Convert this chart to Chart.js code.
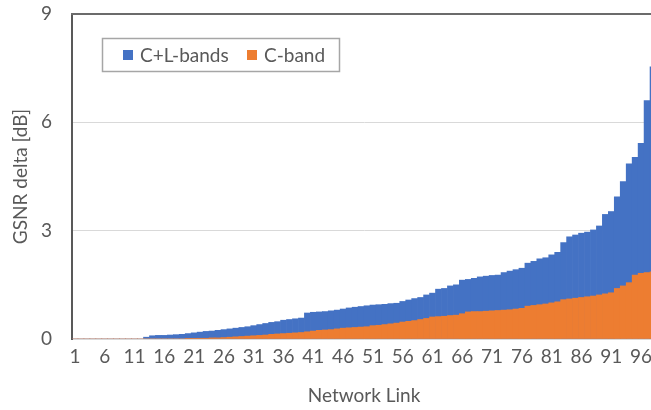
<!DOCTYPE html>
<html>
<head>
<meta charset="utf-8">
<script src="https://cdn.jsdelivr.net/npm/chart.js@4.4.0/dist/chart.umd.min.js"></script>
<style>
  html, body { margin: 0; padding: 0; background: #fff; overflow: hidden; }
  #wrap { width: 651px; height: 410px; overflow: hidden; position: relative; }
  #box { width: 656px; height: 410px; position: absolute; left: 0; top: 0; }
</style>
</head>
<body>
<div id="wrap"><div id="box"><canvas id="c"></canvas></div></div>
<script>
// Network links, sorted by GSNR delta
const links = [
  '1','2','3','4','5','6','7','8','9','10','11','12','13','14','15','16','17','18','19','20',
  '21','22','23','24','25','26','27','28','29','30','31','32','33','34','35','36','37','38','39','40',
  '41','42','43','44','45','46','47','48','49','50','51','52','53','54','55','56','57','58','59','60',
  '61','62','63','64','65','66','67','68','69','70','71','72','73','74','75','76','77','78','79','80',
  '81','82','83','84','85','86','87','88','89','90','91','92','93','94','95','96','97','98'
];

// Labels printed under the x axis
const xTickLabels = ['1','6','11','16','21','26','31','36','41','46','51','56','61','66','71','76','81','86','91','96'];

// Y axis ticks [dB]
const yTicks = [0, 3, 6, 9];

// GSNR delta [dB], C+L-bands
const cPlusL = [
  0, 0, 0, 0, 0, 0, 0, 0, 0, 0, 0, 0,
  0.05, 0.09, 0.10, 0.10, 0.11, 0.12, 0.13, 0.15,
  0.17, 0.19, 0.21, 0.22, 0.24, 0.26, 0.28, 0.30, 0.32, 0.34,
  0.37, 0.40, 0.43, 0.46, 0.48, 0.52, 0.54, 0.56, 0.58, 0.72,
  0.74, 0.75, 0.76, 0.78, 0.80, 0.83, 0.86, 0.88, 0.90, 0.92,
  0.94, 0.95, 0.96, 0.98, 0.99, 1.04, 1.08, 1.12, 1.15, 1.22,
  1.27, 1.38, 1.40, 1.47, 1.50, 1.63, 1.65, 1.68, 1.72, 1.74,
  1.76, 1.77, 1.84, 1.88, 1.92, 1.96, 2.10, 2.15, 2.22, 2.25,
  2.33, 2.40, 2.67, 2.83, 2.88, 2.93, 2.96, 3.02, 3.13, 3.45,
  3.53, 3.94, 4.36, 4.85, 5.03, 5.42, 6.60, 7.54
];

// GSNR delta [dB], C-band
const cBand = [
  0, 0, 0, 0, 0, 0, 0, 0, 0, 0, 0, 0, 0, 0, 0, 0, 0, 0, 0,
  0.01, 0.01, 0.02, 0.02, 0.03, 0.03, 0.04, 0.05, 0.06, 0.07, 0.08,
  0.09, 0.10, 0.11, 0.13, 0.14, 0.15, 0.16, 0.17, 0.18, 0.20,
  0.22, 0.24, 0.25, 0.26, 0.28, 0.30, 0.31, 0.32, 0.33, 0.34,
  0.37, 0.38, 0.40, 0.42, 0.44, 0.47, 0.49, 0.51, 0.54, 0.57,
  0.61, 0.62, 0.63, 0.65, 0.66, 0.70, 0.75, 0.76, 0.76, 0.77,
  0.78, 0.79, 0.80, 0.81, 0.83, 0.85, 0.91, 0.93, 0.95, 0.97,
  1.00, 1.03, 1.09, 1.11, 1.13, 1.15, 1.17, 1.19, 1.22, 1.25,
  1.28, 1.40, 1.47, 1.56, 1.77, 1.82, 1.84, 1.86
];

const BLUE = '#4472C4';
const ORANGE = '#ED7D31';
const TEXT = '#595959';
const FONT = 'Lato, "Open Sans", sans-serif';

// Frame line along the top of the plot area plus the boxed legend
const framePlugin = {
  id: 'frame',
  afterDraw(chart) {
    const { ctx, chartArea } = chart;
    ctx.save();
    ctx.strokeStyle = '#6b6b6b';
    ctx.lineWidth = 2;
    ctx.beginPath();
    ctx.moveTo(chartArea.left - 1, chartArea.top);
    ctx.lineTo(chart.width, chartArea.top);
    ctx.stroke();

    // legend box
    const bx = 102.5, by = 38.5, bw = 237, bh = 33;
    ctx.fillStyle = '#ffffff';
    ctx.fillRect(bx, by, bw, bh);
    ctx.strokeStyle = '#a6a6a6';
    ctx.lineWidth = 1.5;
    ctx.strokeRect(bx, by, bw, bh);

    ctx.font = '19px ' + FONT;
    ctx.textBaseline = 'middle';
    ctx.textAlign = 'left';
    const items = [
      { ds: chart.data.datasets[1], sx: 123, tx: 140 },
      { ds: chart.data.datasets[0], sx: 247, tx: 264 }
    ];
    items.forEach(it => {
      ctx.fillStyle = it.ds.backgroundColor;
      ctx.fillRect(it.sx, 50, 10, 10);
      ctx.fillStyle = TEXT;
      ctx.fillText(it.ds.label, it.tx, 55.5);
    });
    ctx.restore();
  }
};

new Chart(document.getElementById('c'), {
  type: 'bar',
  data: {
    labels: links,
    datasets: [
      {
        label: 'C-band',
        data: cBand,
        backgroundColor: ORANGE,
        order: 1,
        grouped: false,
        barPercentage: 1,
        categoryPercentage: 1,
        borderWidth: 0
      },
      {
        label: 'C+L-bands',
        data: cPlusL,
        backgroundColor: BLUE,
        order: 2,
        grouped: false,
        barPercentage: 1,
        categoryPercentage: 1,
        borderWidth: 0
      }
    ]
  },
  options: {
    responsive: true,
    maintainAspectRatio: false,
    animation: false,
    devicePixelRatio: 1,
    layout: { padding: { top: 14, right: 0, bottom: 0, left: 0 } },
    plugins: {
      legend: { display: false },
      tooltip: { enabled: false }
    },
    scales: {
      x: {
        type: 'category',
        grid: { display: false, drawTicks: false },
        border: { display: true, color: '#d9d9d9', width: 1 },
        ticks: {
          autoSkip: false,
          maxRotation: 0,
          minRotation: 0,
          padding: 6,
          color: TEXT,
          font: { family: FONT, size: 19 },
          callback(value) {
            const lab = this.getLabelForValue(value);
            return xTickLabels.includes(lab) ? lab : '';
          }
        },
        title: {
          display: true,
          text: 'Network Link',
          color: TEXT,
          font: { family: FONT, size: 19 },
          padding: { top: 0, bottom: 3 }
        },
        afterFit(scale) {
          scale.height = 71;
          scale.paddingLeft = 0;
          scale.paddingRight = 0;
        }
      },
      y: {
        min: 0,
        max: 9,
        afterBuildTicks(scale) { scale.ticks = yTicks.map(v => ({ value: v })); },
        grid: { color: '#d9d9d9', lineWidth: 1, drawTicks: false },
        border: { display: true, color: '#595959', width: 2 },
        ticks: {
          padding: 20,
          color: TEXT,
          font: { family: FONT, size: 19 }
        },
        title: {
          display: true,
          text: 'GSNR delta [dB]',
          color: TEXT,
          font: { family: FONT, size: 19 },
          padding: { top: 9, bottom: 0 }
        },
        afterFit(scale) {
          scale.width = 72;
          scale.paddingTop = 0;
          scale.paddingBottom = 0;
        }
      }
    }
  },
  plugins: [framePlugin]
});
</script>
</body>
</html>
